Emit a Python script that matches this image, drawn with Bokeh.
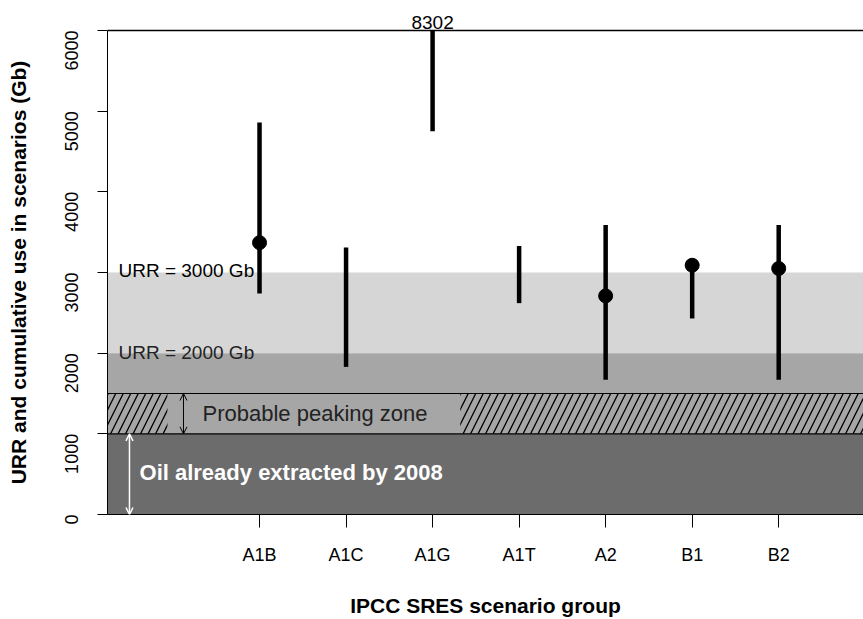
import numpy as np
from bokeh.plotting import figure
from bokeh.models import (Range1d, ColumnDataSource, Label, Arrow, OpenHead,
                          Span, BoxAnnotation, FixedTicker, LinearAxis)
from bokeh.embed import file_html
from bokeh.resources import INLINE

# ---- data -------------------------------------------------------------
scenarios = ["A1B", "A1C", "A1G", "A1T", "A2", "B1", "B2"]
use_low = [2740, 1830, 4750, 2620, 1670, 2430, 1670]
use_high = [4860, 3310, 8302, 3330, 3590, 3090, 3590]
marker_scen = ["A1B", "A2", "B1", "B2"]
marker_val = [3370, 2710, 3090, 3050]

extracted_2008 = 1000          # Gb already extracted
peak_zone = [1000, 1500]       # probable peaking zone
urr_levels = [2000, 3000]      # URR reference levels
y_ticks = [0, 1000, 2000, 3000, 4000, 5000, 6000]
y_max = 6000

FONT = "Liberation Sans"

pos = {s: i + 1 for i, s in enumerate(scenarios)}
src = ColumnDataSource(dict(x=[pos[s] for s in scenarios], lo=use_low, hi=use_high))
msrc = ColumnDataSource(dict(x=[pos[s] for s in marker_scen], y=marker_val))

p = figure(width=863, height=619, output_backend="svg", toolbar_location=None,
           x_range=Range1d(-0.757, 7.98), y_range=Range1d(0, y_max),
           min_border_left=107, min_border_right=0, min_border_top=30,
           min_border_bottom=104)
p.background_fill_color = "white"
p.border_fill_color = "white"
p.outline_line_color = None
p.grid.visible = False

# ---- background bands ---------------------------------------------------
p.add_layout(BoxAnnotation(bottom=urr_levels[0], top=urr_levels[1], fill_color="#d6d6d6",
                           fill_alpha=1, line_color=None, level="underlay"))
p.add_layout(BoxAnnotation(bottom=extracted_2008, top=urr_levels[0], fill_color="#a6a6a6",
                           fill_alpha=1, line_color=None, level="underlay"))
p.add_layout(BoxAnnotation(bottom=0, top=extracted_2008, fill_color="#6c6c6c",
                           fill_alpha=1, line_color=None, level="underlay"))
# hatched parts of the peaking zone
for l, r in [(None, -0.064), (3.32, None)]:
    p.add_layout(BoxAnnotation(left=l, right=r, bottom=peak_zone[0], top=peak_zone[1],
                               fill_alpha=0, line_color=None, hatch_pattern="/",
                               hatch_color="black", hatch_scale=15, hatch_weight=1.3,
                               level="underlay"))
for yv in peak_zone:
    p.add_layout(Span(location=yv, dimension="width", line_color="black", line_width=1.2))

# ---- arrows -------------------------------------------------------------
p.add_layout(Arrow(x_start=0.121, y_start=peak_zone[0], x_end=0.121, y_end=peak_zone[1],
                   line_color="black", line_width=1,
                   start=OpenHead(size=7, line_color="black", line_width=1),
                   end=OpenHead(size=7, line_color="black", line_width=1)))
p.add_layout(Arrow(x_start=-0.503, y_start=extracted_2008, x_end=-0.503, y_end=0,
                   line_color="white", line_width=1.5,
                   start=OpenHead(size=7, line_color="white", line_width=1.5),
                   end=OpenHead(size=7, line_color="white", line_width=1.5)))

# ---- scenario ranges ------------------------------------------------------
p.segment(x0="x", y0="lo", x1="x", y1="hi", source=src, line_color="black", line_width=4.5)
p.scatter(x="x", y="y", source=msrc, size=14, fill_color="black", line_color="black")

# ---- text labels ----------------------------------------------------------
p.add_layout(Label(x=-0.63, y=urr_levels[1] + 30, text=f"URR = {urr_levels[1]} Gb",
                   text_font=FONT, text_font_size="19px", text_baseline="alphabetic",
                   text_color="black"))
p.add_layout(Label(x=-0.63, y=urr_levels[0] + 12, text=f"URR = {urr_levels[0]} Gb",
                   text_font=FONT, text_font_size="19px", text_baseline="alphabetic",
                   text_color="#222222"))
p.add_layout(Label(x=0.341, y=sum(peak_zone) / 2, text="Probable peaking zone",
                   text_font=FONT, text_font_size="22px", text_baseline="middle",
                   text_color="#222222"))
p.add_layout(Label(x=-0.387, y=extracted_2008 * 0.52, text="Oil already extracted by 2008",
                   text_font=FONT, text_font_size="22px", text_font_style="bold",
                   text_baseline="middle", text_color="white"))

# ---- bottom / left axes ------------------------------------------------------
xax = p.below[0]
xax.ticker = FixedTicker(ticks=[pos[s] for s in scenarios])
xax.major_label_overrides = {pos[s]: s for s in scenarios}
xax.axis_label = "IPCC SRES scenario group"
xax.axis_line_color = "black"
xax.major_tick_in = 0
xax.major_tick_out = 13
xax.minor_tick_line_color = None
xax.major_label_standoff = 17
xax.axis_label_standoff = 26

yax = p.left[0]
yax.ticker = FixedTicker(ticks=y_ticks)
yax.axis_label = "URR and cumulative use in scenarios (Gb)"
yax.major_label_orientation = np.pi / 2
yax.major_tick_in = 0
yax.major_tick_out = 10
yax.minor_tick_line_color = None
yax.major_label_standoff = 26
yax.axis_label_standoff = 26

for ax in (xax, yax):
    ax.major_label_text_font = FONT
    ax.major_label_text_font_size = "18px"
    ax.major_label_text_color = "black"
    ax.axis_label_text_font = FONT
    ax.axis_label_text_font_size = "21px"
    ax.axis_label_text_font_style = "bold"
    ax.axis_label_text_color = "black"
    ax.major_tick_line_color = "black"

# top border axis carrying the off-scale value label
top_scen = scenarios[int(np.argmax(use_high))]
top_ax = LinearAxis(ticker=FixedTicker(ticks=[pos[top_scen]]),
                    major_label_overrides={pos[top_scen]: str(max(use_high))})
top_ax.axis_line_color = "black"
top_ax.axis_line_width = 1.5
top_ax.major_tick_line_color = None
top_ax.minor_tick_line_color = None
top_ax.major_tick_in = 0
top_ax.major_tick_out = 0
top_ax.major_label_standoff = 2
top_ax.major_label_text_font = FONT
top_ax.major_label_text_font_size = "19px"
top_ax.major_label_text_color = "black"
p.add_layout(top_ax, "above")

open("out.html", "w").write(file_html(p, INLINE))
